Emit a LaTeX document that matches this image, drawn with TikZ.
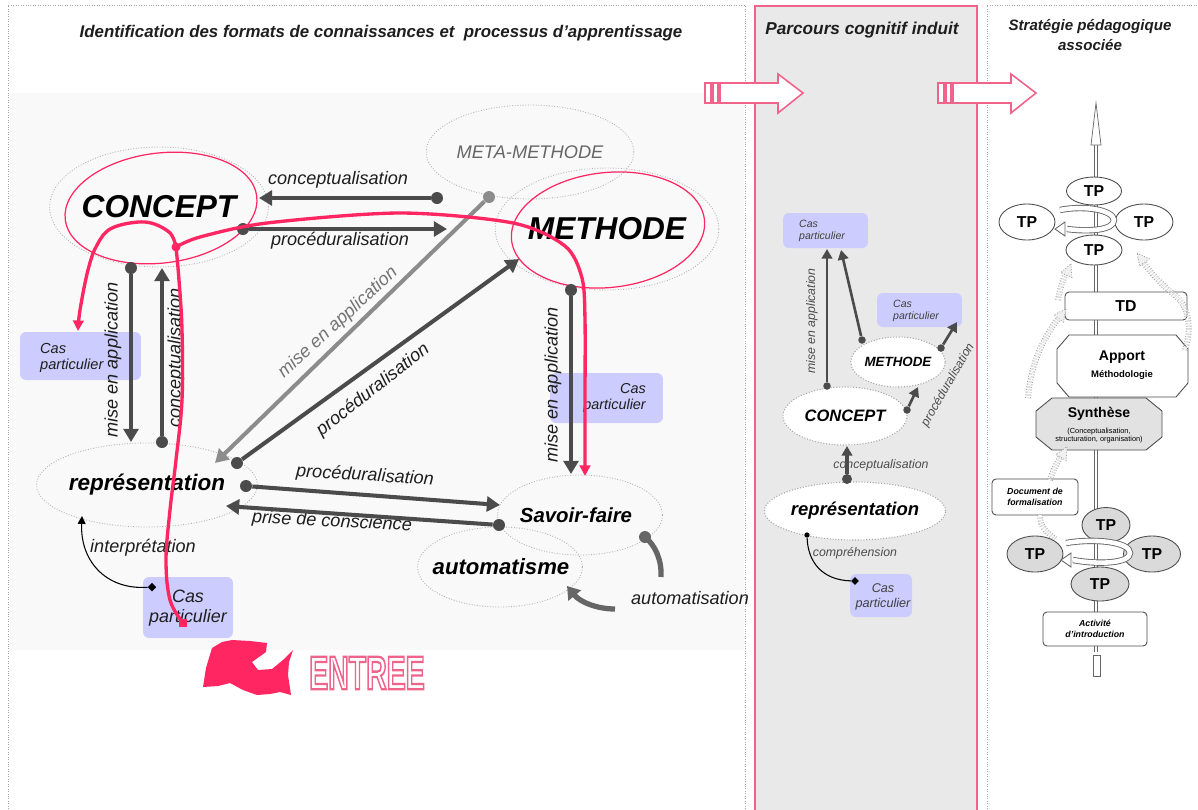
\documentclass[tikz,border=0pt]{standalone}
\usepackage{fontspec}
\setmainfont{Liberation Sans}
\usetikzlibrary{arrows.meta,shapes.geometric}
\definecolor{pk}{RGB}{255,38,98}
\definecolor{pkl}{RGB}{240,100,140}
\definecolor{ag}{RGB}{75,75,75}
\definecolor{agl}{RGB}{140,140,140}
\definecolor{lav}{RGB}{204,204,255}
\definecolor{midbg}{RGB}{233,233,233}
\definecolor{leftbg}{RGB}{249,249,249}
\definecolor{tpg}{RGB}{218,218,218}
\definecolor{syng}{RGB}{226,226,226}
\definecolor{txt}{RGB}{30,30,30}
\newcommand{\fs}[1]{\fontsize{#1}{#1}\selectfont}
\tikzset{
  know/.style={ellipse, draw=gray!60, densely dotted, line width=0.5pt, inner sep=0pt},
  mknow/.style={ellipse, draw=gray!70, densely dotted, fill=white, line width=0.6pt, inner sep=0pt},
  dotn/.style={circle, fill=ag, inner sep=0pt, minimum size=0.24cm},
  dotl/.style={circle, fill=agl, inner sep=0pt, minimum size=0.24cm},
  sdot/.style={circle, fill=ag, inner sep=0pt, minimum size=0.15cm},
  arr/.style={draw=ag, line width=2.3pt, -{Triangle[length=7.5pt,width=8.5pt]}},
  arrl/.style={draw=agl, line width=2.3pt, -{Triangle[length=7.5pt,width=8.5pt]}},
  marr/.style={draw=ag, line width=1.5pt, -{Triangle[length=5.5pt,width=6pt]}},
  lab/.style={font=\itshape\fs{10.3}, text=txt, inner sep=0pt},
  mlab/.style={font=\itshape\fs{7}, text=black!70, inner sep=0pt},
  cas/.style={fill=lav, rounded corners=0.12cm, inner sep=0pt},
  pkline/.style={draw=pk, line width=1.9pt},
  pktip/.style={-{Triangle[length=6pt,width=6pt]}},
  tpw/.style={ellipse, draw=black!70, line width=0.5pt, fill=white, inner sep=0pt, font=\bfseries\fs{9}},
  tpd/.style={tpw, fill=tpg},
  rbox/.style={draw=black!70, line width=0.5pt, rounded corners=0.08cm, fill=white, inner sep=0pt},
  octo/.style={draw=black!70, line width=0.5pt, line join=round},
  band/.style={draw=gray!75, densely dotted, line width=0.5pt, double=gray!12, double distance=2.3pt},
  loopband/.style={draw=black!60, line width=0.5pt, double=white, double distance=2.6pt},
  blockarrow/.style={fill=white, draw=pkl, line width=0.9pt, line join=miter},
}
\newcommand{\hollowhead}[3]{\filldraw[fill=gray!12, draw=gray!75, densely dotted, line width=0.5pt, shift={(#1,#2)}, rotate=#3] (0,0) -- (-12,6) -- (-12,-6) -- cycle;}
\newcommand{\loophead}[3]{\filldraw[fill=white, draw=black!60, line width=0.5pt, shift={(#1,#2)}, rotate=#3] (0,0) -- (-10,7) -- (-10,-7) -- cycle;}
\begin{document}
\begin{tikzpicture}[x=0.02cm, y=-0.02cm]
\useasboundingbox (0,0) rectangle (1198,809);
\fill[white] (0,0) rectangle (1198,809);

% ---------- panels ----------
\fill[leftbg] (10,93) rectangle (744,650);
\draw[gray!70, densely dotted] (8,809) -- (8,5) -- (745,5) -- (745,809);
\filldraw[fill=midbg, draw=pkl, line width=0.8pt] (755,6) rectangle (977,815);
\draw[gray!70, densely dotted] (987,809) -- (987,5) -- (1198,5);

\node[font=\bfseries\itshape\fs{9.6}, text=txt] (t1) at (381,33) {Identification des formats de connaissances et \ processus d'apprentissage};
\node[font=\bfseries\itshape\fs{9.8}, text=txt] (t2) at (862,30) {Parcours cognitif induit};
\node[font=\bfseries\itshape\fontsize{8.6}{11.3}\selectfont, text=txt, align=center] (t3) at (1090,35) {Stratégie pédagogique\\associée};

% ---------- block arrows between panels ----------
\foreach \ox in {0,233} {
  \begin{scope}[xshift=\ox*0.02cm]
    \draw[blockarrow] (705,83) rectangle (711,103);
    \draw[blockarrow] (713,83) rectangle (718,103);
    \draw[blockarrow] (720,83) -- (778,83) -- (778,74) -- (803,93) -- (778,113) -- (778,103) -- (720,103) -- cycle;
  \end{scope}
}

% ---------- left panel : knowledge formats ----------
\node[know, minimum width=3.96cm, minimum height=2.4cm, font=\bfseries\itshape\fs{18}] (concept) at (159,207) {CONCEPT};
\node[ellipse, draw=pk, line width=0.7pt, minimum width=3.86cm, minimum height=2.2cm, rotate=7] (conceptpk) at (161,208) {};
\node[know, minimum width=3.7cm, minimum height=1.88cm, font=\itshape\fs{10.4}, text=black!60] (meta) at (530,152) {META-METHODE};
\node[know, minimum width=3.9cm, minimum height=2.44cm, font=\bfseries\itshape\fs{18}] (methode) at (607,229) {METHODE};
\node[ellipse, draw=pk, line width=0.7pt, minimum width=3.88cm, minimum height=2.3cm, rotate=6] (methodepk) at (608,230) {};
\node[know, minimum width=3.94cm, minimum height=1.68cm, font=\bfseries\itshape\fs{12.8}] (repr) at (147,485) {représentation};
\node[know, minimum width=3.3cm, minimum height=1.6cm] (auto) at (500,567) {};
\node[know, minimum width=3.3cm, minimum height=1.6cm] (savoir) at (580,515) {};
\node[font=\bfseries\itshape\fs{11.6}] (savoirt) at (576,515) {Savoir-faire};
\node[font=\bfseries\itshape\fs{12.6}] (autot) at (501,567) {automatisme};

% particular cases
\node[cas, minimum width=2.42cm, minimum height=0.96cm] (cas1) at (80.5,356) {};
\node[font=\itshape\fs{8.3}, align=left, text=txt, anchor=west] at (34,358) {Cas\\[1pt]particulier};
\node[cas, minimum width=2.26cm, minimum height=1.0cm] (cas2) at (606.5,398) {};
\node[font=\itshape\fs{8.2}, align=right, text=txt, anchor=east] at (652,398) {Cas\\[1pt]particulier};
\node[cas, minimum width=1.8cm, minimum height=1.22cm] (cas3) at (188,607.5) {};
\node[font=\itshape\fs{10.2}, align=center, text=txt] at (188,608) {Cas\\[1pt]particulier};

% labels
\node[lab] at (338,180) {conceptualisation};
\node[lab] at (340,241) {procéduralisation};
\node[lab, text=black!55, rotate=42.5] at (338,323) {mise en application};
\node[lab, rotate=38] at (373,390) {procéduralisation};
\node[lab, rotate=90] at (113,360) {mise en application};
\node[lab, rotate=90] at (176,358) {conceptualisation};
\node[lab, rotate=90] at (553,385) {mise en application};
\node[lab, rotate=-3.5] at (365,476) {procéduralisation};
\node[lab, rotate=-3] at (332,522) {prise de conscience};
\node[lab] at (143,548) {interprétation};
\node[lab] at (690,598) {automatisation};

% connectors
\node[dotn] (dc1) at (437,198) {};
\coordinate (tc1) at (259,198);
\draw[arr] (dc1) -- (tc1);
\node[dotn] (dp1) at (243,229) {};
\coordinate (tp1) at (447,229);
\draw[arr] (dp1) -- (tp1);
\node[dotl] (dm1) at (489,197) {};
\coordinate (tm1) at (215,463);
\draw[arrl] (dm1) -- (tm1);
\node[dotn] (dp2) at (237,463) {};
\coordinate (tp2) at (519,259);
\draw[arr] (dp2) -- (tp2);
\node[dotn] (dm2) at (131,268) {};
\coordinate (tm2) at (131,442);
\draw[arr] (dm2) -- (tm2);
\node[dotn] (dc2) at (162,442) {};
\coordinate (tc2) at (162,268);
\draw[arr] (dc2) -- (tc2);
\node[dotn] (dm3) at (571,290) {};
\coordinate (tm3) at (571,474);
\draw[arr] (dm3) -- (tm3);
\node[dotn] (dp3) at (246,486) {};
\coordinate (tp3) at (500,505);
\draw[arr] (dp3) -- (tp3);
\node[dotn] (dpc) at (499,525) {};
\coordinate (tpc) at (226,506);
\draw[arr] (dpc) -- (tpc);

% automatisation loop
\node[dotn, fill=black!60] (da) at (645,537) {};
\coordinate (ea) at (661,577);
\draw[draw=black!60, line width=3pt] (da.center) .. controls (655,545) and (662,560) .. (ea);
\coordinate (sa) at (615,609);
\coordinate (ta) at (567,586);
\draw[draw=black!60, line width=3pt, -{Triangle[length=7pt,width=9pt]}] (sa) .. controls (597,609) and (580,602) .. (ta);

% interpretation
\node[diamond, fill=black, inner sep=0pt, minimum size=5pt] (dd) at (152,587) {};
\coordinate (ti) at (82,516);
\draw[black, line width=0.6pt, -{Triangle[length=4.5pt,width=4.5pt]}] (dd) .. controls (105,590) and (80,560) .. (ti);

% pink route
\coordinate (pkj) at (176,247);
\draw[pkline] plot[smooth, tension=0.6] coordinates {(183,623) (170,600) (166,560) (170,510) (176,460) (182,400) (182,330) (179,280) (176,247)};
\draw[pkline, pktip] plot[smooth, tension=0.6] coordinates {(176,247) (169,232) (145,222) (112,228) (97,245) (88,270) (80,310) (78,331)};
\draw[pkline, pktip] plot[smooth, tension=0.5] coordinates {(176,247) (200,237) (267,223) (400,213) (513,223) (565,246) (582,278) (585,320) (585,400) (585,476)};
\fill[pk] (pkj) circle (4.5);
\fill[pk] (179,619) rectangle (187,627);

% entry marker
\fill[pk] (203,687) -- (206,668) -- (212,648) -- (222,642) -- (232,640) -- (250,641) -- (267,643) -- (266,652) -- (252,662) -- (258,670) -- (272,669) -- (283,660) -- (293,650) -- (289,662) -- (288,675) -- (291,695) -- (280,692) -- (270,694) -- (257,695) -- (243,690) -- (230,683) -- (218,686) -- cycle;
\node[font=\bfseries\fs{27}, xscale=0.6, text=pkl] (entree) at (367,673) {\special{pdf:literal direct 1 Tr 1.3 w}ENTREE\special{pdf:literal direct 0 Tr}};

% ---------- middle panel : induced path ----------
\node[cas, minimum width=1.7cm, minimum height=0.7cm] (mc1) at (825.5,230.5) {};
\node[font=\itshape\fs{6}, align=left, text=black!75, anchor=west] at (793,231) {Cas\\[1pt]particulier};
\node[cas, minimum width=1.7cm, minimum height=0.68cm] (mc2) at (919.5,310) {};
\node[font=\itshape\fs{6}, align=left, text=black!75, anchor=west] at (887,311) {Cas\\[1pt]particulier};
\node[cas, minimum width=1.24cm, minimum height=0.86cm] (mc3) at (881,595.5) {};
\node[font=\itshape\fs{7.2}, align=center, text=black!75] at (883,597) {Cas\\[1pt]particulier};

\node[mlab, rotate=90] at (812,321) {mise en application};
\node[mlab, rotate=60] at (948,385) {procéduralisation};
\node[mlab] at (881,465) {conceptualisation};
\node[mlab] at (855,553) {compréhension};

\node[mknow, minimum width=1.88cm, minimum height=1.0cm, font=\bfseries\itshape\fs{7.6}] (mmeth) at (898,362) {METHODE};
\node[mknow, minimum width=2.48cm, minimum height=1.16cm, font=\bfseries\itshape\fs{9.4}] (mconc) at (845,416) {CONCEPT};
\node[mknow, minimum width=2.88cm, minimum height=1.16cm, font=\bfseries\itshape\fs{10.5}] (mrep) at (855,511) {représentation};

\node[sdot] (md1) at (827,386) {};
\coordinate (mt1) at (827,249);
\draw[marr] (md1) -- (mt1);
\node[sdot] (md2) at (862,340) {};
\coordinate (mt2) at (841,250);
\draw[marr] (md2) -- (mt2);
\node[sdot] (md3) at (941,348) {};
\coordinate (mt3) at (957,322);
\draw[marr] (md3) -- (mt3);
\node[sdot] (md4) at (907,410) {};
\coordinate (mt4) at (918,387);
\draw[marr] (md4) -- (mt4);
\node[dotn, minimum size=0.2cm] (md5) at (847,479) {};
\coordinate (mt5) at (847,446);
\draw[marr, line width=2pt] (md5) -- (mt5);

\node[diamond, fill=black, inner sep=0pt, minimum size=4.5pt] (mdd) at (855,581) {};
\node[circle, fill=black, inner sep=0pt, minimum size=3pt] (mde) at (807,535) {};
\draw[black, line width=0.6pt] (mdd) .. controls (822,580) and (808,562) .. (mde);

% ---------- right panel : teaching strategy ----------
\draw[draw=black!60, line width=0.4pt, double=white, double distance=1.6pt] (1096,144) -- (1096,652);
\filldraw[fill=white, draw=black!60, line width=0.4pt] (1096,103) -- (1101,145) -- (1091,145) -- cycle;
\draw[black!60, line width=0.4pt] (1093,655) rectangle (1100,676);

\node[rbox, minimum width=2.44cm, minimum height=0.56cm, font=\bfseries\fs{9}] (td) at (1126,306) {TD};

% octagonal stages
\filldraw[octo, fill=white] (1069,335) -- (1176,335) -- (1188,349) -- (1188,383) -- (1176,397) -- (1069,397) -- (1057,383) -- (1057,349) -- cycle;
\node[align=center, inner sep=0pt, font=\fontsize{6}{9.6}\selectfont] (apport) at (1122,365) {{\bfseries\fs{8}Apport}\\{\bfseries\fs{5.4}Méthodologie}};
\filldraw[octo, fill=syng] (1052,398) -- (1146,398) -- (1162,411) -- (1162,437) -- (1146,450) -- (1052,450) -- (1036,437) -- (1036,411) -- cycle;
\node[align=center, inner sep=0pt, font=\fontsize{4.2}{4.7}\selectfont] (synth) at (1099,425) {{\bfseries\fs{8}Synthèse}\\[3.6pt]{(Conceptualisation,}\\{structuration, organisation)}};

\node[rbox, minimum width=1.72cm, minimum height=0.72cm, align=center, font=\bfseries\itshape\fs{5}] (doc) at (1035,497) {Document de\\[1pt]formalisation};
\node[rbox, minimum width=2.08cm, minimum height=0.68cm, align=center, font=\bfseries\itshape\fs{5}] (act) at (1095,629) {Activité\\[1pt]d'introduction};

% hollow progression arrows
\draw[band] (1058,300) .. controls (1060,288) and (1063,278) .. (1069,268);
\hollowhead{1071}{264}{67}
\draw[band] (1185,350) .. controls (1192,330) and (1190,305) .. (1172,293) .. controls (1160,283) and (1148,270) .. (1140,257);
\hollowhead{1137}{253}{128}
\draw[band] (1028,398) .. controls (1030,370) and (1040,340) .. (1062,314);
\hollowhead{1066}{309}{52}
\draw[band] (1050,480) .. controls (1053,470) and (1058,460) .. (1064,452);
\hollowhead{1067}{447}{60}
\draw[band] (1040,515) .. controls (1040,528) and (1048,533) .. (1055,539);

% top cluster of practical works
\node[tpw, minimum width=1.1cm, minimum height=0.56cm] (tpa) at (1094,191) {TP};
\node[tpw, minimum width=1.12cm, minimum height=0.72cm] (tpb) at (1027,222) {TP};
\node[tpw, minimum width=1.16cm, minimum height=0.72cm] (tpc) at (1144,222) {TP};
\node[tpw, minimum width=1.12cm, minimum height=0.6cm] (tpd) at (1094,250) {TP};
\draw[loopband] (1060,210) .. controls (1085,205) and (1113,210) .. (1114,220) .. controls (1114,230) and (1090,232) .. (1067,229);
\loophead{1055}{229}{180}

% bottom cluster of practical works
\node[tpd, minimum width=0.96cm, minimum height=0.7cm] (tpe) at (1106,525) {TP};
\node[tpd, minimum width=1.12cm, minimum height=0.72cm] (tpf) at (1035,554) {TP};
\node[tpd, minimum width=1.14cm, minimum height=0.72cm] (tpg) at (1152,554) {TP};
\node[tpd, minimum width=1.16cm, minimum height=0.68cm] (tph) at (1100,584) {TP};
\draw[loopband] (1066,543) .. controls (1095,538) and (1130,542) .. (1130,553) .. controls (1130,563) and (1100,565) .. (1073,560);
\loophead{1061}{560}{180}

\end{tikzpicture}
\end{document}
